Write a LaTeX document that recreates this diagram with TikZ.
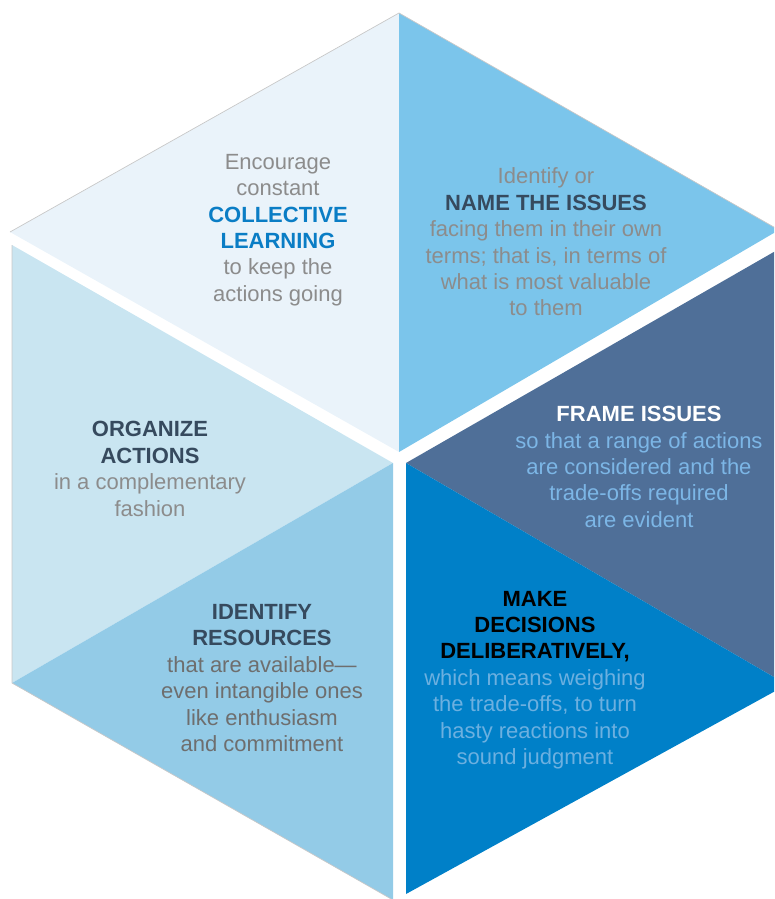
\documentclass[tikz,border=0pt]{standalone}
\usepackage{fontspec}
\setmainfont{Liberation Sans}

\definecolor{paleface}{HTML}{EAF3FA}
\definecolor{skyface}{HTML}{7BC5EB}
\definecolor{slateface}{HTML}{4F6F98}
\definecolor{deepface}{HTML}{0080C8}
\definecolor{softface}{HTML}{93CBE7}
\definecolor{mistface}{HTML}{C9E5F1}
\definecolor{rimgray}{HTML}{C8C8C8}
\definecolor{bodygray}{HTML}{8C8C8C}
\definecolor{darkgray}{HTML}{6E6E6E}
\definecolor{headslate}{HTML}{364A5E}
\definecolor{learnblue}{HTML}{0A7DC5}
\definecolor{frameblue}{HTML}{7CB6E6}
\definecolor{makeblue}{HTML}{6CB0E0}

\begin{document}
\begin{tikzpicture}[x=1pt,y=-1pt,
  txt/.style={align=center,inner sep=0pt,font=\fontsize{22}{26.4}\selectfont},
  rim/.style={draw=rimgray,line width=0.7pt}]
		\useasboundingbox (0,0) rectangle (774,899);
		\clip (0,0) rectangle (774,899);
		% top pair
		\fill[paleface] (399,13) -- (10,232) -- (399,452) -- cycle;
		\fill[skyface] (399,13) -- (779,230) -- (399,452) -- cycle;
		\draw[rim] (10,232) -- (399,13) -- (779,230);
		% right pair
		\fill[slateface] (406,463) -- (779,249) -- (779,680) -- cycle;
		\fill[deepface] (406,463) -- (779,680) -- (779,689) -- (406,894) -- cycle;
		% left pair
		\fill[mistface] (393,463) -- (12,245) -- (12,683) -- cycle;
		\fill[softface] (393,463) -- (12,683) -- (393,900) -- cycle;
		\draw[rim] (12,245) -- (12,683) -- (393,900);
		% texts
		\node[txt,text=bodygray] (learn) at (278,230) {Encourage\\constant\\{\color{learnblue}\bfseries COLLECTIVE}\\{\color{learnblue}\bfseries LEARNING}\\to keep the\\actions going};
		\node[txt,text=bodygray] (name) at (546,242) {Identify or\\{\color{headslate}\bfseries NAME THE ISSUES}\\facing them in their own\\terms; that is, in terms of\\what is most valuable\\to them};
		\node[txt,text=frameblue] (frame) at (639,467) {{\color{white}\bfseries FRAME ISSUES}\\so that a range of actions\\are considered and the\\trade-offs required\\are evident};
		\node[txt,text=makeblue] (decide) at (535,680) {{\color{black}\bfseries MAKE}\\{\color{black}\bfseries DECISIONS}\\{\color{black}\bfseries DELIBERATIVELY,}\\which means weighing\\the trade-offs, to turn\\hasty reactions into\\sound judgment};
		\node[txt,text=darkgray] (resources) at (262,678) {{\color{headslate}\bfseries IDENTIFY}\\{\color{headslate}\bfseries RESOURCES}\\that are available—\\even intangible ones\\like enthusiasm\\and commitment};
		\node[txt,text=bodygray] (organize) at (150,469) {{\color{headslate}\bfseries ORGANIZE}\\{\color{headslate}\bfseries ACTIONS}\\in a complementary\\fashion};
	\end{tikzpicture}
\end{document}
